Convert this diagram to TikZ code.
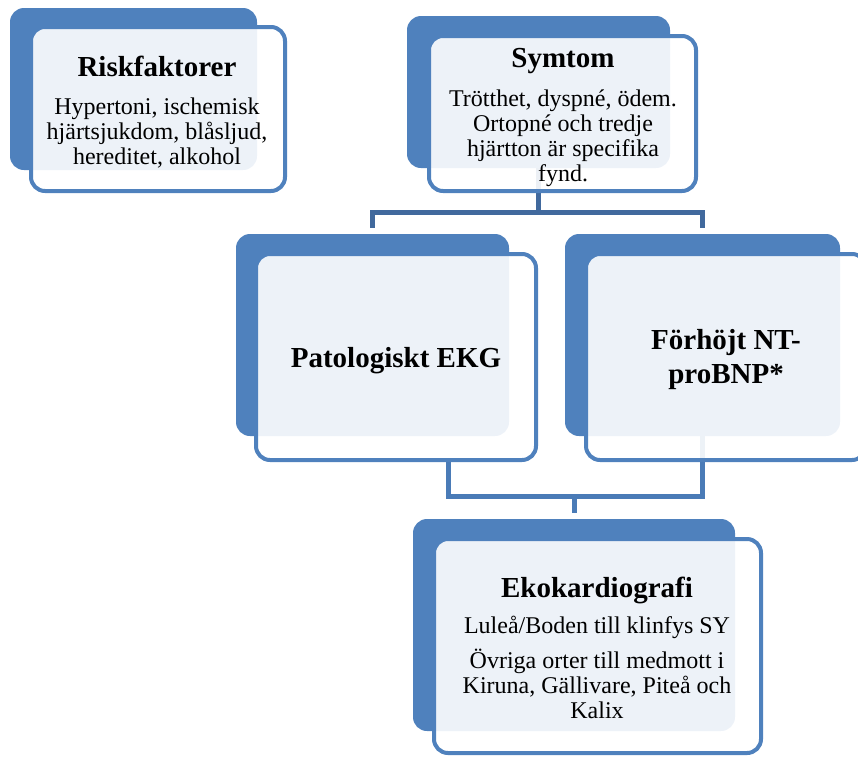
\documentclass[tikz,border=0pt]{standalone}
\usepackage{fontspec}
\setmainfont{Liberation Serif}
\definecolor{boxblue}{HTML}{4F81BD}
\definecolor{linkblue}{HTML}{41699D}
\definecolor{linkblueb}{HTML}{4A7BB7}
\newcommand{\headfont}{\fontsize{29}{34}\selectfont\bfseries}

\begin{document}
\begin{tikzpicture}[x=1pt,y=-1pt,
    back/.style={fill=boxblue,rounded corners=14pt,inner sep=0pt,outer sep=0pt},
    front/.style={draw=boxblue,line width=4pt,fill=white,fill opacity=0.9,rounded corners=14pt,inner sep=0pt,outer sep=0pt},
    link/.style={draw=linkblue,line width=5pt},
    linkb/.style={draw=linkblueb,line width=5pt},
    txt/.style={align=center,inner sep=0pt,font=\fontsize{24}{25}\selectfont}]
    \useasboundingbox (0,0) rectangle (858,756);

    % draw the blue back boxes
    \foreach \name/\xa/\ya/\xb/\yb in {
        risk/10/8/257/170,
        sym/407/16/670/168,
        ekg/236/234/509/436,
        nt/565/234/840/436,
        eko/413/519/735/731}
        \node[back,minimum width=\xb-\xa,minimum height=\yb-\ya] (\name-back) at ({(\xa+\xb)/2},{(\ya+\yb)/2}) {};

    % connect the symptoms with the two findings
    \coordinate (split) at (538.5,212);
    \draw[link,shorten >=6pt] (sym-back.south) -- (split) -| (ekg-back.north);
    \draw[link,shorten >=6pt] (split) -| (nt-back.north);

    % both findings lead to the echo
    \coordinate (ekg-out) at (448,458);
    \coordinate (join) at (574,496);
    \draw[linkb] (ekg-out) |- (join) -| (nt-back.south);
    \draw[linkb,shorten >=6pt] (join) -- (eko-back.north);

    % draw the framed front boxes
    \foreach \name/\xa/\ya/\xb/\yb in {
        risk/31/27/285/191,
        sym/429/36/696/191,
        ekg/256/254/536/460,
        nt/586/254/866/460,
        eko/434/539/761/753}
        \node[front,minimum width=\xb-\xa,minimum height=\yb-\ya] (\name-front) at ({(\xa+\xb)/2},{(\ya+\yb)/2}) {};

    % the texts (base is the last line)
    \node[txt,anchor=base] (risk-text) at (157,164) {{\headfont Riskfaktorer}\\[13pt]Hypertoni, ischemisk\\hjärtsjukdom, blåsljud,\\hereditet, alkohol};
    \node[txt,anchor=base] (sym-text) at (563,181) {{\headfont Symtom}\\[14pt]Trötthet, dyspné, ödem.\\Ortopné och tredje\\hjärtton är specifika\\fynd.};
    \node[txt,anchor=base,font=\headfont] (ekg-text) at (396,367) {Patologiskt EKG};
    \node[txt,anchor=base,font=\headfont] (nt-text) at (726,383) {Förhöjt NT-\\proBNP*};
    \node[txt,anchor=base] (eko-text) at (597,718) {{\headfont Ekokardiografi}\\[11pt]Luleå/Boden till klinfys SY\\[10pt]Övriga orter till medmott i\\Kiruna, Gällivare, Piteå och\\Kalix};
\end{tikzpicture}
\end{document}
